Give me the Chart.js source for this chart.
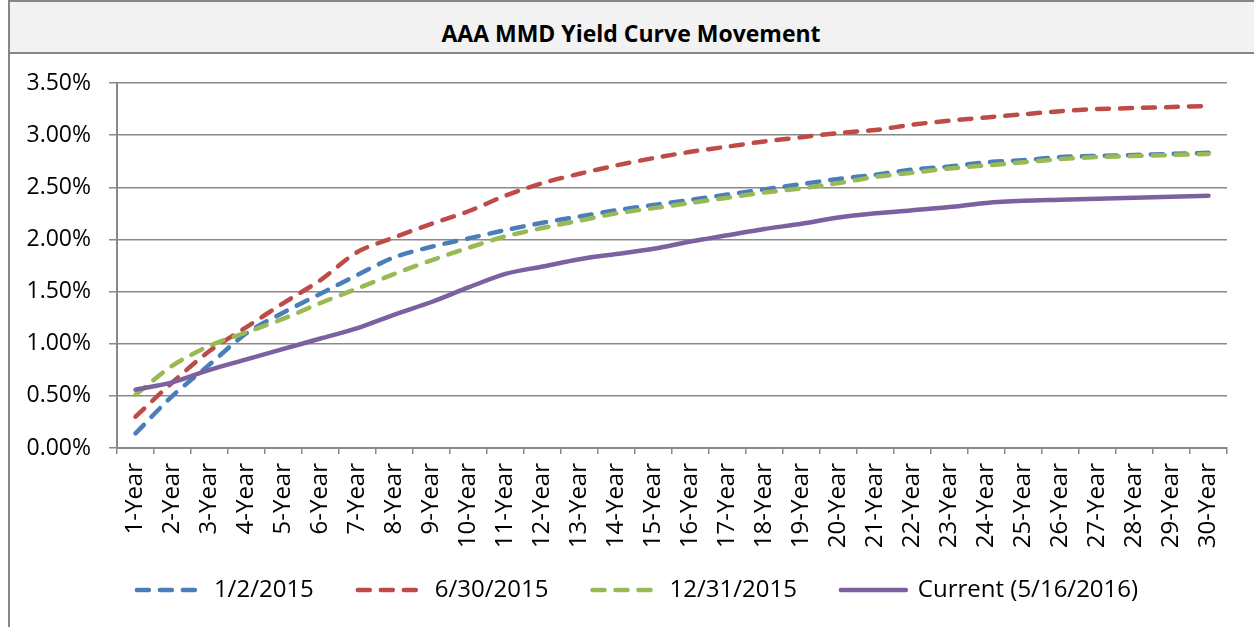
<!DOCTYPE html>
<html>
<head>
<meta charset="utf-8">
<script src="https://cdn.jsdelivr.net/npm/chart.js@4/dist/chart.umd.min.js"></script>
<style>
  html, body { margin: 0; padding: 0; background: #ffffff; }
  #wrap { position: relative; width: 1254px; height: 627px; overflow: hidden; }
  #frame { position: absolute; left: 8px; top: 0; width: 1260px; height: 640px;
           border-left: 2px solid #868686; border-top: 2px solid #868686; box-sizing: border-box; }
  #titleband { position: absolute; left: 10px; top: 2px; width: 1250px; height: 50px;
               background: #f2f2f2; border-bottom: 2px solid #868686; overflow: visible;
               font-family: 'Open Sans', sans-serif; font-weight: bold; font-size: 23px;
               color: #000; text-align: center; line-height: 62px; text-indent: -8px; }
  #c { position: absolute; left: 0; top: 0; }
</style>
</head>
<body>
<div id="wrap">
  <div id="frame"></div>
  <div id="titleband">AAA MMD Yield Curve Movement</div>
  <canvas id="c" width="1254" height="627"></canvas>
</div>
<script>
const categories = ['1-Year','2-Year','3-Year','4-Year','5-Year','6-Year','7-Year','8-Year','9-Year','10-Year',
  '11-Year','12-Year','13-Year','14-Year','15-Year','16-Year','17-Year','18-Year','19-Year','20-Year',
  '21-Year','22-Year','23-Year','24-Year','25-Year','26-Year','27-Year','28-Year','29-Year','30-Year'];

const seriesNames = ['1/2/2015', '6/30/2015', '12/31/2015', 'Current (5/16/2016)'];

const yield_2015_01_02 = [0.14, 0.50, 0.80, 1.10, 1.30, 1.48, 1.66, 1.83, 1.93, 2.01,
  2.09, 2.16, 2.22, 2.28, 2.33, 2.38, 2.43, 2.48, 2.53, 2.58,
  2.62, 2.67, 2.70, 2.74, 2.76, 2.79, 2.80, 2.81, 2.82, 2.83];

const yield_2015_06_30 = [0.30, 0.63, 0.93, 1.16, 1.39, 1.61, 1.88, 2.02, 2.15, 2.27,
  2.42, 2.54, 2.63, 2.71, 2.78, 2.84, 2.89, 2.94, 2.98, 3.02,
  3.05, 3.10, 3.14, 3.17, 3.20, 3.23, 3.25, 3.26, 3.27, 3.28];

const yield_2015_12_31 = [0.51, 0.79, 0.98, 1.11, 1.24, 1.39, 1.53, 1.67, 1.80, 1.92,
  2.03, 2.11, 2.18, 2.25, 2.30, 2.35, 2.40, 2.45, 2.49, 2.54,
  2.60, 2.64, 2.68, 2.71, 2.74, 2.77, 2.79, 2.80, 2.81, 2.82];

const yield_current = [0.56, 0.63, 0.75, 0.85, 0.95, 1.05, 1.15, 1.28, 1.40, 1.54,
  1.67, 1.74, 1.81, 1.86, 1.91, 1.98, 2.04, 2.10, 2.15, 2.21,
  2.25, 2.28, 2.31, 2.35, 2.37, 2.38, 2.39, 2.40, 2.41, 2.42];

const yTickMin = 0, yTickMax = 3.5, yTickStep = 0.5;

const FONT = "'Open Sans', sans-serif";
const AXIS_GREY = '#8a8a8a';

function lineDs(label, data, color, dashed, order) {
  return {
    label, data,
    borderColor: color, backgroundColor: color,
    borderWidth: 4.5,
    borderDash: dashed ? [12, 11] : [],
    borderCapStyle: 'round',
    borderJoinStyle: 'round',
    pointRadius: 0, pointHoverRadius: 0,
    tension: 0.3,
    fill: false,
    order
  };
}

const datasets = [
  lineDs(seriesNames[0], yield_2015_01_02, '#4a7ebb', true, 4),
  lineDs(seriesNames[1], yield_2015_06_30, '#be4b48', true, 3),
  lineDs(seriesNames[2], yield_2015_12_31, '#98b954', true, 2),
  lineDs(seriesNames[3], yield_current, '#7d60a0', false, 1)
];

// Moves the legend box after layout so it sits where the reference puts it
const legendNudge = {
  id: 'legendNudge',
  afterLayout(chart) {
    const l = chart.legend;
    if (!l) return;
    const dy = -15, dx = 14;
    l.top += dy; l.bottom += dy;
    l.left += dx; l.right += dx;
  }
};

new Chart(document.getElementById('c'), {
  type: 'line',
  data: { labels: categories, datasets },
  plugins: [legendNudge],
  options: {
    responsive: false,
    animation: false,
    devicePixelRatio: 1,
    layout: { padding: { left: 20, right: 27, top: 83, bottom: 0 } },
    plugins: {
      title: { display: false },
      tooltip: { enabled: false },
      legend: {
        position: 'bottom',
        labels: {
          usePointStyle: true,
          pointStyleWidth: 65,
          padding: 44,
          color: '#000',
          font: { family: FONT, size: 24 },
          sort: (a, b) => a.datasetIndex - b.datasetIndex,
          generateLabels: chart => chart.data.datasets.map((ds, i) => ({
            text: ds.label,
            fillStyle: ds.borderColor,
            strokeStyle: ds.borderColor,
            lineWidth: ds.borderWidth,
            lineDash: ds.borderDash,
            lineCap: 'round',
            pointStyle: 'line',
            hidden: false,
            datasetIndex: i
          }))
        }
      }
    },
    scales: {
      x: {
        offset: true,
        afterFit: s => { s.height = 101; },
        grid: { display: true, drawOnChartArea: false, drawTicks: true, tickLength: 6,
                color: AXIS_GREY, lineWidth: 1.5, offset: true },
        border: { display: true, color: AXIS_GREY, width: 2 },
        ticks: { autoSkip: false, minRotation: 90, maxRotation: 90, padding: 9,
                 color: '#000', font: { family: FONT, size: 24 } }
      },
      y: {
        min: yTickMin, max: yTickMax,
        afterFit: s => { s.width = 97; },
        grid: { color: AXIS_GREY, lineWidth: 1.5, tickLength: 8, drawTicks: true },
        border: { display: true, color: AXIS_GREY, width: 2 },
        ticks: { stepSize: yTickStep, padding: 18, color: '#000',
                 font: { family: FONT, size: 23 },
                 callback: v => v.toFixed(2) + '%' }
      }
    }
  }
});
</script>
</body>
</html>
